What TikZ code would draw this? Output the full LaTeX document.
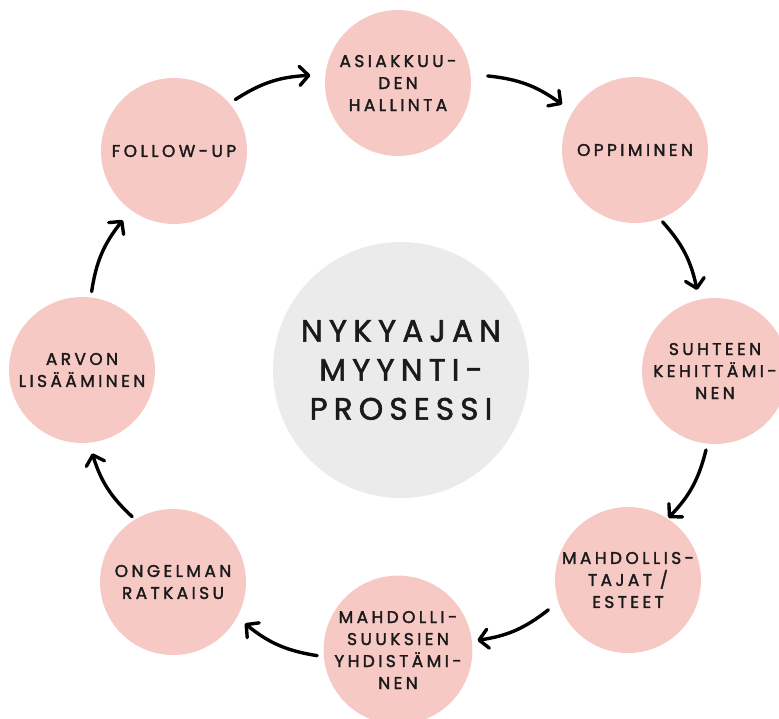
\documentclass[tikz,border=0pt]{standalone}
\usepackage{fontspec}
\setmainfont{Poppins}[LetterSpace=20,FakeBold=1.8]
\usetikzlibrary{arrows.meta,calc}
\definecolor{pinkc}{HTML}{F7C9C5}
\definecolor{grayc}{HTML}{EBEBEB}
\definecolor{txt}{HTML}{1A1A1A}
\begin{document}
\begin{tikzpicture}[x=1pt,y=1pt,
  stage/.style={circle,fill=pinkc,minimum size=146pt,inner sep=0pt,align=center,text=txt,
    font=\fontsize{17}{22}\selectfont},
  hub/.style={circle,fill=grayc,minimum size=256pt,inner sep=0pt,align=center,text=txt,
    font=\fontsize{31}{39}\selectfont},
  flow/.style={line width=3.4pt,line cap=round,black,
    -{Straight Barb[length=9pt,width=19pt,round]}}]
\useasboundingbox (0,0) rectangle (779,-718);
\node[hub] (C) at (401,-370) {NYKYAJAN\\MYYNTI-\\PROSESSI};
\node[stage] (A) at (398,-83) {ASIAKKUU-\\DEN\\HALLINTA};
\node[stage] (O) at (635,-150) {OPPIMINEN};
\node[stage] (S) at (715,-371) {SUHTEEN\\KEHITTÄMI-\\NEN};
\node[stage] (M) at (628,-580) {MAHDOLLIS-\\TAJAT /\\ESTEET};
\node[stage] (Y) at (398,-650) {MAHDOLLI-\\SUUKSIEN\\YHDISTÄMI-\\NEN};
\node[stage] (G) at (173,-582) {ONGELMAN\\RATKAISU};
\node[stage] (R) at (82,-370) {ARVON\\LISÄÄMINEN};
\node[stage] (F) at (174,-151) {FOLLOW-UP};
\draw[flow] ($(F)+(40:80)$) to[bend left=15] ($(A)+(175:88)$);
\draw[flow] ($(A)+(4.5:90)$) to[bend left=15] ($(O)+(148:86)$);
\draw[flow] ($(O)+(-69:77)$) to[bend left=15] ($(S)+(102.5:83)$);
\draw[flow] ($(S)+(-96.5:79.5)$) to[bend left=15] ($(M)+(57:74)$);
\draw[flow] ($(M)+(200.5:85)$) to[bend left=15] ($(Y)+(7:80)$);
\draw[flow] ($(Y)+(184:81)$) to[bend left=15] ($(G)+(-30:83)$);
\draw[flow] ($(G)+(122:77)$) to[bend left=15] ($(R)+(-83:84)$);
\draw[flow] ($(R)+(83:79)$) to[bend left=15] ($(F)+(233.5:86)$);
\end{tikzpicture}
\end{document}
